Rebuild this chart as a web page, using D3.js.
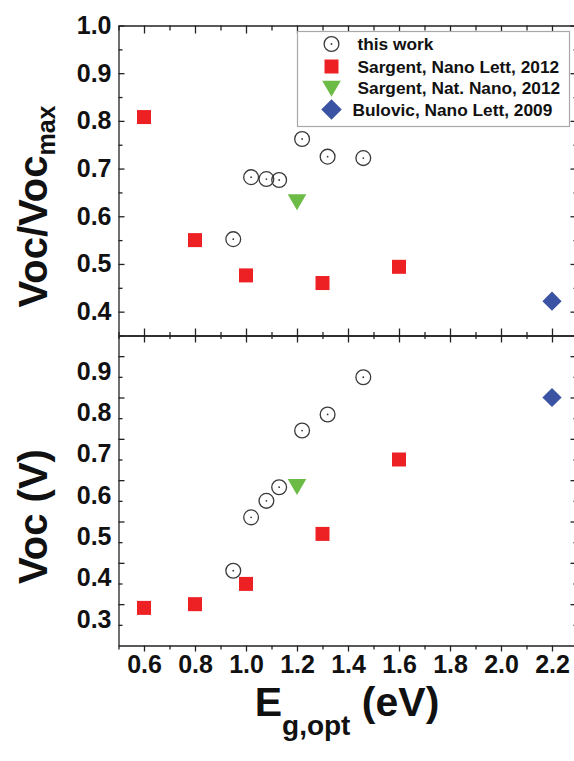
<!DOCTYPE html>
<html>
<head>
<meta charset="utf-8">
<script src="https://cdn.jsdelivr.net/npm/d3@7"></script>
<style>
  body { margin: 0; background: #fff; }
  text { font-family: "Liberation Sans", Arial, sans-serif; font-weight: bold; fill: #111; }
</style>
</head>
<body>
<div id="chart"></div>
<script>
// values
const xMajor = [0.6, 0.8, 1.0, 1.2, 1.4, 1.6, 1.8, 2.0, 2.2];
const xMinor = [0.5, 0.7, 0.9, 1.1, 1.3, 1.5, 1.7, 1.9, 2.1, 2.3];
const ratioMajor = [0.4, 0.5, 0.6, 0.7, 0.8, 0.9, 1.0];
const ratioMinor = [0.35, 0.45, 0.55, 0.65, 0.75, 0.85, 0.95];
const vocMajor = [0.3, 0.4, 0.5, 0.6, 0.7, 0.8, 0.9];
const vocMinor = [0.25, 0.35, 0.45, 0.55, 0.65, 0.75, 0.85];

const thisWorkEg = [0.95, 1.02, 1.08, 1.13, 1.22, 1.32, 1.46];
const thisWorkRatio = [0.552, 0.682, 0.678, 0.676, 0.762, 0.725, 0.722];
const thisWorkVoc = [0.381, 0.51, 0.55, 0.583, 0.72, 0.759, 0.849];

const nanoLettEg = [0.6, 0.8, 1.0, 1.3, 1.6];
const nanoLettRatio = [0.808, 0.55, 0.476, 0.46, 0.494];
const nanoLettVoc = [0.291, 0.30, 0.349, 0.47, 0.65];

const natNanoEg = [1.2];
const natNanoRatio = [0.635];
const natNanoVoc = [0.59];

const bulovicEg = [2.2];
const bulovicRatio = [0.422];
const bulovicVoc = [0.80];

const legendLabels = ["this work", "Sargent, Nano Lett, 2012", "Sargent, Nat. Nano, 2012", "Bulovic, Nano Lett, 2009"];

const red = "#ed2024", green = "#6cbb46", blue = "#3a54a3";

const width = 574, height = 761;
const left = 118.5, right = 577.5;
const top1 = 25.5, mid = 335.5, bot = 645.5;

const svg = d3.select("#chart").append("svg")
  .attr("width", width).attr("height", height);

const x = d3.scaleLinear().domain([0.5, 2.3]).range([left, right]);
const yTop = d3.scaleLinear().domain([0.35, 1.0]).range([mid, top1]);
const yBot = d3.scaleLinear().domain([0.2, 0.95]).range([bot, mid]);

function styleAxis(g) {
  g.selectAll("path, line").attr("stroke", "#222").attr("stroke-width", 1.3);
  g.selectAll("text").style("font-size", "25px").attr("fill", "#111");
}

// draws one axis with major + minor ticks
function axisPair(make, scale, major, minor, pos, size, minorSize, labels) {
  const gMinor = svg.append("g").attr("transform", pos)
    .call(make(scale).tickValues(minor).tickSize(minorSize).tickSizeOuter(0).tickFormat(""));
  gMinor.select(".domain").remove();
  const gMajor = svg.append("g").attr("transform", pos)
    .call(make(scale).tickValues(major).tickSize(size).tickSizeOuter(0).tickPadding(7)
      .tickFormat(labels ? d3.format(".1f") : ""));
  styleAxis(gMinor);
  styleAxis(gMajor);
  return gMajor;
}

// top panel
axisPair(d3.axisLeft, yTop, ratioMajor, ratioMinor, `translate(${left},0)`, -6, -4, true);
axisPair(d3.axisRight, yTop, ratioMajor, ratioMinor, `translate(${right},0)`, -7, -4, false);
axisPair(d3.axisTop, x, xMajor, xMinor, `translate(0,${top1})`, -8, -5, false);
axisPair(d3.axisBottom, x, xMajor, xMinor, `translate(0,${mid})`, -7, -3.5, false);

// bottom panel (its tick labels sit a bit below their ticks in the original)
const vocAxis = axisPair(d3.axisLeft, yBot, vocMajor, vocMinor, `translate(${left},0)`, -6, -4, true);
vocAxis.selectAll("text").attr("transform", "translate(0,15)");
axisPair(d3.axisRight, yBot, vocMajor, vocMinor, `translate(${right},0)`, -7, -4, false);
axisPair(d3.axisTop, x, xMajor, xMinor, `translate(0,${mid})`, -7, -3.5, false);
const xAxis = axisPair(d3.axisBottom, x, xMajor, xMinor, `translate(0,${bot})`, 6, 4, true);
xAxis.selectAll("text").attr("y", 13).attr("dy", "0.56em");

// markers
const squareSym = d3.symbol(d3.symbolSquare, 196);
const triSym = d3.symbol(d3.symbolTriangle, 150);
const diaSym = d3.symbol(d3.symbolSquare, 185);

function drawCircles(g, xs, ys, yScale) {
  const pts = g.selectAll(null).data(xs.map((d, i) => [d, ys[i]])).join("g")
    .attr("transform", d => `translate(${x(d[0])},${yScale(d[1])})`);
  pts.append("circle").attr("r", 7.4).attr("fill", "none").attr("stroke", "#3a3a3a").attr("stroke-width", 1.3);
  pts.append("circle").attr("r", 0.9).attr("fill", "#3a3a3a");
}

function drawSymbols(g, xs, ys, yScale, sym, color, rot) {
  g.selectAll(null).data(xs.map((d, i) => [d, ys[i]])).join("path")
    .attr("d", sym)
    .attr("fill", color)
    .attr("transform", d => `translate(${x(d[0])},${yScale(d[1])}) rotate(${rot})`);
}

function drawPanel(yScale, ratio) {
  const g = svg.append("g");
  drawCircles(g, thisWorkEg, ratio ? thisWorkRatio : thisWorkVoc, yScale);
  drawSymbols(g, nanoLettEg, ratio ? nanoLettRatio : nanoLettVoc, yScale, squareSym, red, 0);
  drawSymbols(g, natNanoEg, ratio ? natNanoRatio : natNanoVoc, yScale, triSym, green, 180);
  drawSymbols(g, bulovicEg, ratio ? bulovicRatio : bulovicVoc, yScale, diaSym, blue, 45);
}
drawPanel(yTop, true);
drawPanel(yBot, false);

// legend
const leg = svg.append("g");
leg.append("rect").attr("x", 297.5).attr("y", 31.5).attr("width", 272).attr("height", 95)
  .attr("fill", "#fff").attr("stroke", "#a8a8a8").attr("stroke-width", 1.2);
const rowY = [44, 66.5, 88, 109.5];
const mk = leg.append("g").attr("transform", `translate(331.5,${rowY[0]})`);
mk.append("circle").attr("r", 7.4).attr("fill", "none").attr("stroke", "#3a3a3a").attr("stroke-width", 1.3);
mk.append("circle").attr("r", 0.9).attr("fill", "#3a3a3a");
leg.append("path").attr("d", squareSym).attr("fill", red).attr("transform", `translate(331.5,${rowY[1]})`);
leg.append("path").attr("d", triSym).attr("fill", green).attr("transform", `translate(331.5,${rowY[2] - 2}) rotate(180)`);
leg.append("path").attr("d", d3.symbol(d3.symbolSquare, 210)).attr("fill", blue).attr("transform", `translate(331.5,${rowY[3]}) rotate(45)`);
leg.selectAll(null).data(legendLabels).join("text")
  .attr("x", (d, i) => i === 3 ? 352.5 : 357.5)
  .attr("y", (d, i) => rowY[i])
  .attr("dy", "0.36em")
  .style("font-size", "17.3px")
  .text(d => d);

// axis titles
const xt = svg.append("text").attr("x", 347).attr("y", 716).attr("text-anchor", "middle")
  .style("font-size", "41px");
xt.append("tspan").text("E");
xt.append("tspan").attr("dy", 19).style("font-size", "28px").text("g,opt");
xt.append("tspan").attr("dy", -19).text(" (eV)");

const yt1 = svg.append("text").attr("transform", "translate(47,206.5) rotate(-90)")
  .attr("text-anchor", "middle").style("font-size", "40px");
yt1.append("tspan").text("Voc/Voc");
yt1.append("tspan").attr("dy", 8).style("font-size", "25px").text("max");

svg.append("text").attr("transform", "translate(47,516.5) rotate(-90)")
  .attr("text-anchor", "middle").style("font-size", "40px").text("Voc (V)");
</script>
</body>
</html>
